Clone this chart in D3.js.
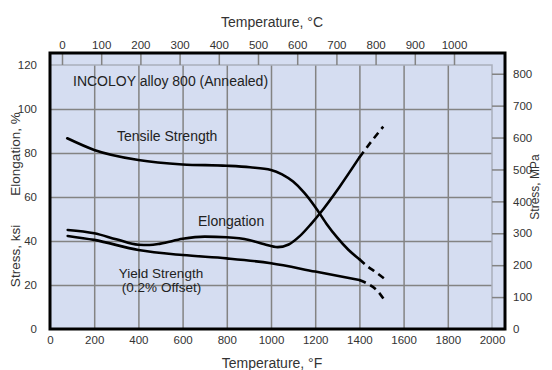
<!DOCTYPE html>
<html>
<head>
<meta charset="utf-8">
<script src="https://cdn.jsdelivr.net/npm/d3@7"></script>
<style>
  body { margin: 0; background: #fff; }
  svg { display: block; }
  text { font-family: "Liberation Sans", Arial, sans-serif; }
</style>
</head>
<body>
<svg id="chart" width="552" height="370"></svg>
<script>
// ticks
const fahrenheitTicks = [0, 200, 400, 600, 800, 1000, 1200, 1400, 1600, 1800, 2000];
const celsiusTicks = [0, 100, 200, 300, 400, 500, 600, 700, 800, 900, 1000];
const ksiTicks = [0, 20, 40, 60, 80, 100, 120];
const mpaTicks = [0, 100, 200, 300, 400, 500, 600, 700, 800];

// Tensile strength, ksi
const tensileF = [78, 200, 400, 600, 800, 905, 1000, 1050, 1100, 1150, 1200, 1250, 1300, 1350, 1400];
const tensileKsi = [86.7, 81.4, 76.8, 74.8, 74.2, 73.5, 72.3, 70.3, 67, 62, 55.5, 48, 41.5, 36, 31.7];
const tensileDashF = [1400, 1440, 1475, 1511];
const tensileDashKsi = [31.7, 28.2, 25.8, 23];

// Elongation, %
const elongF = [80, 200, 300, 400, 450, 500, 600, 700, 800, 900, 970, 1030, 1080, 1130, 1180, 1220, 1310, 1400];
const elongPct = [45, 43.5, 40.8, 38.3, 38.2, 38.8, 41, 42, 41.7, 40.5, 38.5, 37.2, 38.4, 42.2, 47.6, 52.4, 64.6, 78];
const elongDashF = [1400, 1460, 1508];
const elongDashPct = [78, 86, 92];

// Yield strength (0.2% offset), ksi
const yieldF = [80, 200, 400, 600, 800, 1000, 1200, 1400];
const yieldKsi = [42.3, 40.5, 35.9, 33.6, 32.1, 29.9, 26.1, 22.3];
const yieldDashF = [1400, 1440, 1480, 1514];
const yieldDashKsi = [22.3, 20.4, 17.5, 13];

const KSI_TO_MPA = 6.894757;

const svg = d3.select('#chart');

const frame = { left: 50, right: 505, top: 53, bottom: 329 };
const inner = { right: 492, top: 65 };

const xF = d3.scaleLinear().domain([0, 2000]).range([frame.left, inner.right]);
const xC = d3.scaleLinear().domain([0, 1000]).range([62, 454]);
const yK = d3.scaleLinear().domain([0, 120]).range([frame.bottom, inner.top]);
const yM = d3.scaleLinear().domain([0, 120 * KSI_TO_MPA]).range([frame.bottom, inner.top]);

const gridColor = '#838383';
const lightColor = '#a9aebb';
const labelColor = '#333';

// background
svg.append('rect')
    .attr('x', frame.left).attr('y', frame.top)
    .attr('width', frame.right - frame.left)
    .attr('height', frame.bottom - frame.top)
    .attr('fill', '#d5ddf1');

// vertical grid (deg F)
const gx = svg.append('g')
    .attr('transform', 'translate(0,' + frame.bottom + ')')
    .call(d3.axisBottom(xF).tickValues(fahrenheitTicks.slice(1, -1))
        .tickSize(-(frame.bottom - inner.top)).tickFormat(''));
gx.select('.domain').remove();
gx.selectAll('line').attr('stroke', gridColor).attr('stroke-width', 1.5);

// horizontal grid (ksi)
const gy = svg.append('g')
    .attr('transform', 'translate(' + frame.left + ',0)')
    .call(d3.axisLeft(yK).tickValues(ksiTicks.slice(1, -1))
        .tickSize(-(inner.right - frame.left)).tickFormat(''));
gy.select('.domain').remove();
gy.selectAll('line').attr('stroke', gridColor).attr('stroke-width', 1.5);

// lighter inner border: 120 ksi line and 2000 F line
svg.append('path')
    .attr('d', 'M' + frame.left + ',' + yK(120) + 'H' + xF(2000) + 'V' + frame.bottom)
    .attr('fill', 'none')
    .attr('stroke', lightColor)
    .attr('stroke-width', 1.5);

// deg C ticks in the top strip
const gc = svg.append('g')
    .attr('transform', 'translate(0,' + frame.top + ')')
    .call(d3.axisBottom(xC).tickValues(celsiusTicks).tickSize(inner.top - frame.top).tickFormat(''));
gc.select('.domain').remove();
gc.selectAll('line').attr('stroke', gridColor).attr('stroke-width', 1.5);

// MPa ticks in the right strip
const gm = svg.append('g')
    .attr('transform', 'translate(' + frame.right + ',0)')
    .call(d3.axisLeft(yM).tickValues(mpaTicks).tickSize(frame.right - inner.right).tickFormat(''));
gm.select('.domain').remove();
gm.selectAll('line').attr('stroke', gridColor).attr('stroke-width', 1.5);

// curves
const line = d3.line()
    .x(d => xF(d[0]))
    .y(d => yK(d[1]))
    .curve(d3.curveMonotoneX);

function drawCurve(xs, ys, dashed) {
    svg.append('path')
        .datum(xs.map((x, i) => [x, ys[i]]))
        .attr('fill', 'none')
        .attr('stroke', '#000')
        .attr('stroke-width', 2.6)
        .attr('stroke-linecap', dashed ? 'butt' : 'round')
        .attr('stroke-dasharray', dashed ? '7,5' : null)
        .attr('d', line);
}

drawCurve(tensileF, tensileKsi, false);
drawCurve(tensileDashF, tensileDashKsi, true);
drawCurve(elongF, elongPct, false);
drawCurve(elongDashF, elongDashPct, true);
drawCurve(yieldF, yieldKsi, false);
drawCurve(yieldDashF, yieldDashKsi, true);

// frame
svg.append('rect')
    .attr('x', frame.left).attr('y', frame.top)
    .attr('width', frame.right - frame.left)
    .attr('height', frame.bottom - frame.top)
    .attr('fill', 'none')
    .attr('stroke', '#000')
    .attr('stroke-width', 3);

// tick labels
function styleLabels(g, size) {
    g.select('.domain').remove();
    g.selectAll('line').remove();
    g.selectAll('text')
        .attr('font-size', size)
        .attr('font-family', '"Liberation Sans", Arial, sans-serif')
        .attr('fill', labelColor);
}

svg.append('g')
    .attr('transform', 'translate(0,' + (frame.bottom + 3) + ')')
    .call(d3.axisBottom(xF).tickValues(fahrenheitTicks).tickSize(0).tickPadding(4).tickFormat(d3.format('d')))
    .call(styleLabels, 11.5);

svg.append('g')
    .attr('transform', 'translate(0,' + (frame.top - 3) + ')')
    .call(d3.axisTop(xC).tickValues(celsiusTicks).tickSize(0).tickPadding(1).tickFormat(d3.format('d')))
    .call(styleLabels, 11.5);

svg.append('g')
    .attr('transform', 'translate(' + (frame.left - 10) + ',0)')
    .call(d3.axisLeft(yK).tickValues(ksiTicks).tickSize(0).tickPadding(3).tickFormat(d3.format('d')))
    .call(styleLabels, 11.5);

svg.append('g')
    .attr('transform', 'translate(' + (frame.right + 5) + ',0)')
    .call(d3.axisRight(yM).tickValues(mpaTicks).tickSize(0).tickPadding(3).tickFormat(d3.format('d')))
    .call(styleLabels, 11.5);

// axis titles
function addText(x, y, str, size, anchor, rotate) {
    const t = svg.append('text')
        .attr('x', x).attr('y', y)
        .attr('font-size', size)
        .attr('fill', labelColor)
        .attr('text-anchor', anchor || 'start')
        .text(str);
    if (rotate) t.attr('transform', 'rotate(' + rotate + ',' + x + ',' + y + ')');
    return t;
}

addText(272, 27, 'Temperature, °C', 14, 'middle');
addText(272, 368, 'Temperature, °F', 14, 'middle');
addText(20, 256, 'Stress, ksi', 13.5, 'middle', -90);
addText(20, 154, 'Elongation, %', 13.5, 'middle', -90);
addText(539, 187, 'Stress, MPa', 12, 'middle', -90);

// in-plot labels
const inkColor = '#222';
addText(73, 86, 'INCOLOY alloy 800 (Annealed)', 14).attr('fill', inkColor);
addText(117, 140.5, 'Tensile Strength', 14).attr('fill', inkColor);
addText(198, 226, 'Elongation', 14).attr('fill', inkColor);
addText(161, 278, 'Yield Strength', 13.5, 'middle').attr('fill', inkColor);
addText(161.5, 292, '(0.2% Offset)', 13.5, 'middle').attr('fill', inkColor);
</script>
</body>
</html>
